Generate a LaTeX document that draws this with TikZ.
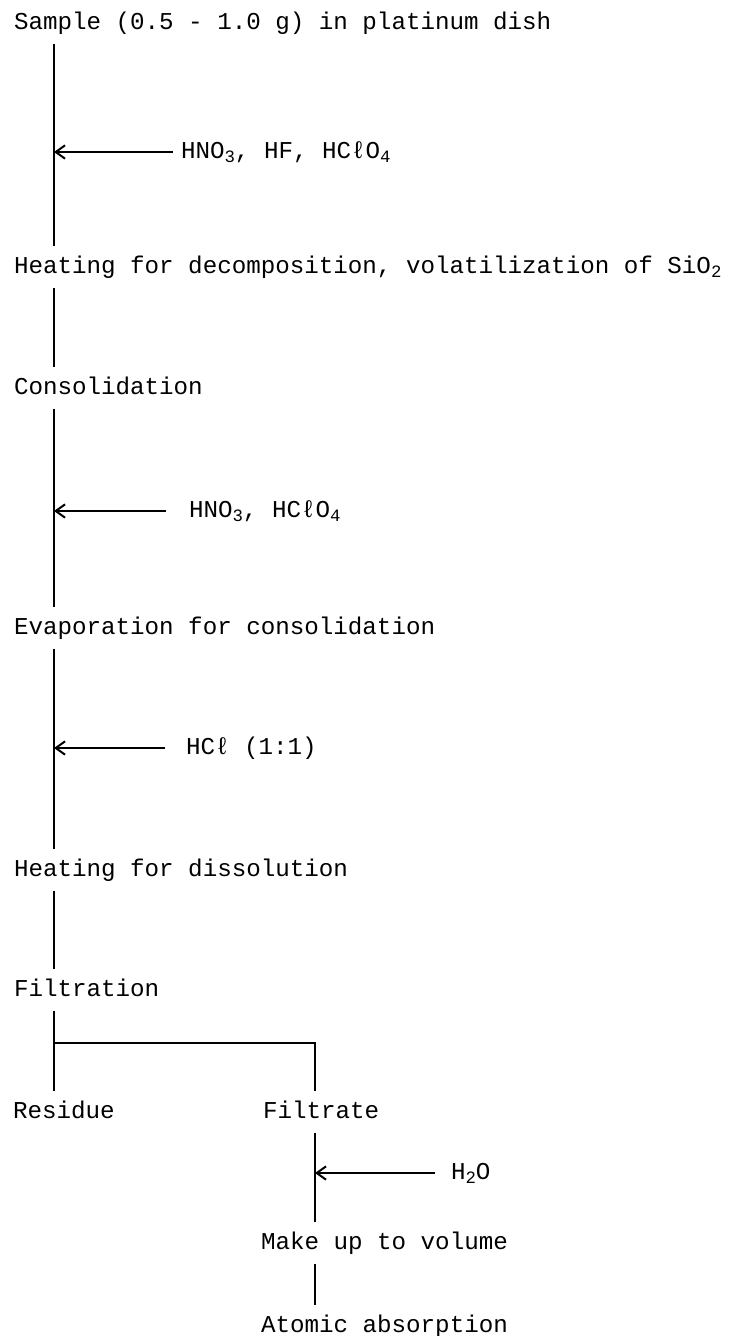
\documentclass[tikz,border=0pt]{standalone}
\usepackage{fontspec}
\setmainfont{Liberation Mono}
\usetikzlibrary{arrows.meta}
\newcommand{\subs}[1]{\raisebox{-0.35ex}{\fontsize{13pt}{13pt}\selectfont #1}}

\begin{document}
\begin{tikzpicture}[
        x=0.75pt, y=-0.75pt,
        every path/.style={line width=1.5pt},
        feed/.style={-{Straight Barb[length=7pt,width=10pt]}},
        every node/.style={anchor=west, inner xsep=0pt, inner ysep=9pt, text height=10.5pt, text depth=1pt,
            font=\fontsize{18.15pt}{20pt}\selectfont},
        reagent/.style={inner ysep=0pt}
    ]
    \useasboundingbox (0,0) rectangle (734,1336);

    % Nodes
    \node (sample) at (13,23) {Sample (0.5 - 1.0 g) in platinum dish};
    \node (decomp) at (13,267) {Heating for decomposition, volatilization of SiO\subs{2}};
    \node (consol) at (13,388) {Consolidation};
    \node (evap) at (13,628) {Evaporation for consolidation};
    \node (dissol) at (13,870) {Heating for dissolution};
    \node (filtr) at (13,990) {Filtration};
    \node (resid) at (12,1112) {Residue};
    \node (filtrate) at (262,1112) {Filtrate};
    \node (volume) at (260,1243) {Make up to volume};
    \node (aas) at (260,1326) {Atomic absorption};

    \node[reagent] (acid1) at (180,152) {HNO\subs{3}, HF, HCℓO\subs{4}};
    \node[reagent] (acid2) at (188,511) {HNO\subs{3}, HCℓO\subs{4}};
    \node[reagent] (acid3) at (185,748) {HCℓ (1:1)};
    \node[reagent] (water) at (450,1173) {H\subs{2}O};

    \coordinate (trunk) at (54,0);
    \coordinate (branch) at (315,0);
    \coordinate (fork) at (54,1043);
    \coordinate (in1) at (173,152);
    \coordinate (in2) at (166,511);
    \coordinate (in3) at (165,748);
    \coordinate (in4) at (435,1173);

    % Edges
    \draw (sample.south -| trunk) -- (decomp.north -| trunk);
    \draw[feed] (in1) -- (in1 -| trunk);
    \draw (decomp.south -| trunk) -- (consol.north -| trunk);
    \draw (consol.south -| trunk) -- (evap.north -| trunk);
    \draw[feed] (in2) -- (in2 -| trunk);
    \draw (evap.south -| trunk) -- (dissol.north -| trunk);
    \draw[feed] (in3) -- (in3 -| trunk);
    \draw (dissol.south -| trunk) -- (filtr.north -| trunk);
    \draw (filtr.south -| trunk) -- (resid.north -| trunk);
    \draw (fork) -| (filtrate.north -| branch);
    \draw (filtrate.south -| branch) -- (volume.north -| branch);
    \draw[feed] (in4) -- (in4 -| branch);
    \draw (volume.south -| branch) -- (aas.north -| branch);

\end{tikzpicture}
\end{document}
